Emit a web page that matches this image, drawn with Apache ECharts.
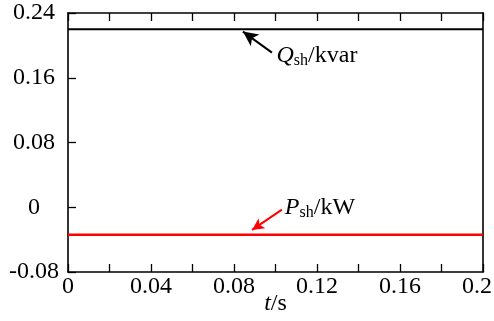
<!DOCTYPE html>
<html><head><meta charset="utf-8">
<script src="https://cdn.jsdelivr.net/npm/echarts@6/dist/echarts.min.js"></script>
<style>html,body{margin:0;padding:0;background:#fff}#c{width:494px;height:321px}</style>
</head><body><div id="c"></div>
<script>
const times = [0, 0.05, 0.1, 0.15, 0.2];
const qValues = [0.22, 0.22, 0.22, 0.22, 0.22];
const pValues = [-0.034, -0.034, -0.034, -0.034, -0.034];
const xTicks = [0, 0.04, 0.08, 0.12, 0.16, 0.2];
const yTicks = [-0.08, 0, 0.08, 0.16, 0.24];
// annotation anchors in data coordinates
const qArrow = [[0.0983, 0.191], [0.0843, 0.217]];
const pArrow = [[0.1031, -0.003], [0.0887, -0.028]];
const qLabelAt = [0.1005, 0.185];
const pLabelAt = [0.1045, -0.003];

const font = '"Liberation Serif","Times New Roman",serif';
const fmt = v => String(parseFloat(Number(v).toFixed(3)));
const chart = echarts.init(document.getElementById('c'), null, {renderer: 'canvas'});
const axisLine = {show: true, onZero: false, lineStyle: {color: '#000', width: 1.6}};
const tick = {show: true, inside: true, length: 8, lineStyle: {color: '#000', width: 1.3}};
const minor = {show: true, splitNumber: 2, length: 8, lineStyle: {color: '#000', width: 1.3}};
chart.setOption({
  animation: false,
  grid: {left: 68, right: 11, top: 13, bottom: 49, outerBoundsMode: 'none', containLabel: false},
  xAxis: [{
    type: 'value', min: 0, max: 0.2, interval: 0.04,
    axisLine: axisLine, axisTick: tick, minorTick: minor,
    splitLine: {show: false},
    axisLabel: {color: '#000', fontFamily: font, fontSize: 24, margin: 3,
      formatter: v => (Math.abs(v - 0.2) < 1e-9 ? '{r|' + fmt(v) + '}' : fmt(v)),
      rich: {r: {fontFamily: font, fontSize: 24, color: '#000', padding: [0, 12, 0, 0]}}},
    name: '{i|t}/s', nameLocation: 'middle', nameGap: 20, nameMoveOverlap: false,
    nameTextStyle: {color: '#000', fontFamily: font, fontSize: 24, verticalAlign: 'top',
      rich: {i: {fontStyle: 'italic', fontFamily: font, fontSize: 24, color: '#000'}}}
  }, {
    type: 'value', min: 0, max: 0.2, interval: 0.04, position: 'top',
    axisLine: axisLine, axisTick: tick, minorTick: minor,
    splitLine: {show: false}, axisLabel: {show: false}
  }],
  yAxis: [{
    type: 'value', min: -0.08, max: 0.24, interval: 0.08,
    axisLine: axisLine, axisTick: tick,
    splitLine: {show: false},
    axisLabel: {color: '#000', fontFamily: font, fontSize: 24, margin: 34, align: 'center', formatter: fmt}
  }, {
    type: 'value', min: -0.08, max: 0.24, interval: 0.08, position: 'right',
    axisLine: axisLine, axisTick: {show: false}, splitLine: {show: false}, axisLabel: {show: false}
  }],
  series: [{
    type: 'line', data: times.map((t, i) => [t, qValues[i]]), showSymbol: false,
    lineStyle: {color: '#000', width: 2}, silent: true,
    markLine: {silent: true, symbol: ['none', 'arrow'], symbolSize: [11, 15], label: {show: false},
      lineStyle: {color: '#000', width: 2, type: 'solid'},
      data: [[{coord: qArrow[0]}, {coord: qArrow[1]}]]}
  }, {
    type: 'line', data: times.map((t, i) => [t, pValues[i]]), showSymbol: false,
    lineStyle: {color: '#ff0000', width: 2.5}, silent: true,
    markLine: {silent: true, symbol: ['none', 'arrow'], symbolSize: [9, 12], label: {show: false},
      lineStyle: {color: '#ff0000', width: 2, type: 'solid'},
      data: [[{coord: pArrow[0]}, {coord: pArrow[1]}]]}
  }]
});
const qp = chart.convertToPixel({gridIndex: 0}, qLabelAt);
const pp = chart.convertToPixel({gridIndex: 0}, pLabelAt);
const rich = {
  i: {fontStyle: 'italic', fontFamily: font, fontSize: 24, fill: '#000'},
  s: {fontFamily: font, fontSize: 16, fill: '#000', padding: [10, 0, 0, 0]},
  n: {fontFamily: font, fontSize: 24, fill: '#000'}
};
chart.setOption({graphic: [
  {type: 'text', left: qp[0], top: qp[1] - 14, style: {text: '{i|Q}{s|sh}{n|/kvar}', rich: rich}},
  {type: 'text', left: pp[0], top: pp[1] - 14, style: {text: '{i|P}{s|sh}{n|/kW}', rich: rich}}
]});
</script></body></html>
